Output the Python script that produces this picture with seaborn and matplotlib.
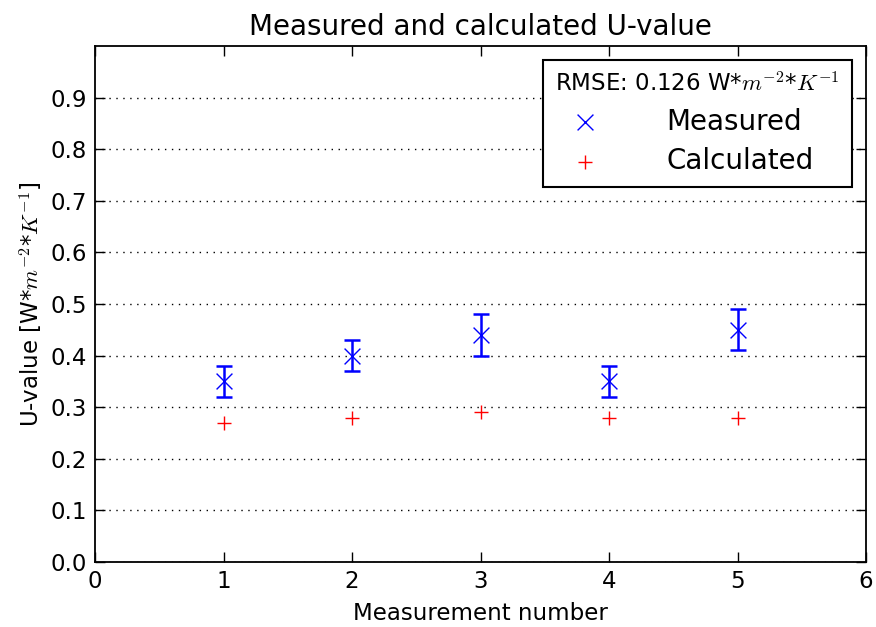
import matplotlib
matplotlib.use("Agg")
import matplotlib.pyplot as plt
import seaborn as sns
import pandas as pd

measurement = [1, 2, 3, 4, 5]
measured = [0.35, 0.40, 0.44, 0.35, 0.45]
measured_err = [0.03, 0.03, 0.04, 0.03, 0.04]
calculated = [0.27, 0.28, 0.29, 0.28, 0.28]
yticks = [0.0, 0.1, 0.2, 0.3, 0.4, 0.5, 0.6, 0.7, 0.8, 0.9]

sns.set_style("ticks")
plt.rcParams['font.family'] = ['DejaVu Sans']
plt.rcParams['mathtext.fontset'] = 'cm'
plt.rcParams['text.color'] = 'black'
plt.rcParams['axes.labelcolor'] = 'black'
plt.rcParams['xtick.color'] = 'black'
plt.rcParams['ytick.color'] = 'black'

df = pd.DataFrame({"n": measurement, "measured": measured,
                   "err": measured_err, "calculated": calculated})

fig = plt.figure(figsize=(8.76, 6.27), dpi=100)
ax = fig.add_axes([0.1085, 0.1037, 0.8801, 0.8229])

ax.errorbar(df["n"], df["measured"], yerr=df["err"], fmt="none",
            ecolor="blue", elinewidth=1.8, capsize=6, capthick=1.8, zorder=3)
sns.scatterplot(data=df, x="n", y="measured", marker="x", color="blue",
                s=130, linewidth=1.0, ax=ax, label="Measured", zorder=4)
sns.scatterplot(data=df, x="n", y="calculated", marker="+", color="red",
                s=110, linewidth=1.0, ax=ax, label="Calculated", zorder=4)

ax.set_xlim(0, 6)
ax.set_ylim(0, 1.0)
ax.set_yticks(yticks)
ax.set_xticks(range(0, 7))
ax.yaxis.grid(True, linestyle=(0, (1, 4)), color="black", linewidth=1.0)
ax.xaxis.grid(False)
ax.tick_params(direction="in", length=7, width=1, top=True, right=True,
               labelsize=16.5, pad=6)
for s in ax.spines.values():
    s.set_linewidth(1.3)
    s.set_color("black")

ax.set_title("Measured and calculated U-value", fontsize=20, pad=8)
ax.set_xlabel("Measurement number", fontsize=16.5, labelpad=6)
ax.set_ylabel("U-value [W*$m^{-2}$*$K^{-1}$]", fontsize=16.5, labelpad=4)

leg = ax.legend(loc="upper right", title="RMSE: 0.126 W*$m^{-2}$*$K^{-1}$",
                fontsize=20, title_fontsize=16.5, frameon=True, fancybox=False,
                edgecolor="black", framealpha=1, handlelength=2.12,
                handletextpad=1.89, alignment="left",
                borderpad=0.45, labelspacing=0.4, markerscale=1.0)
leg.get_frame().set_linewidth(1.5)

fig.savefig("out.png", dpi=100)
